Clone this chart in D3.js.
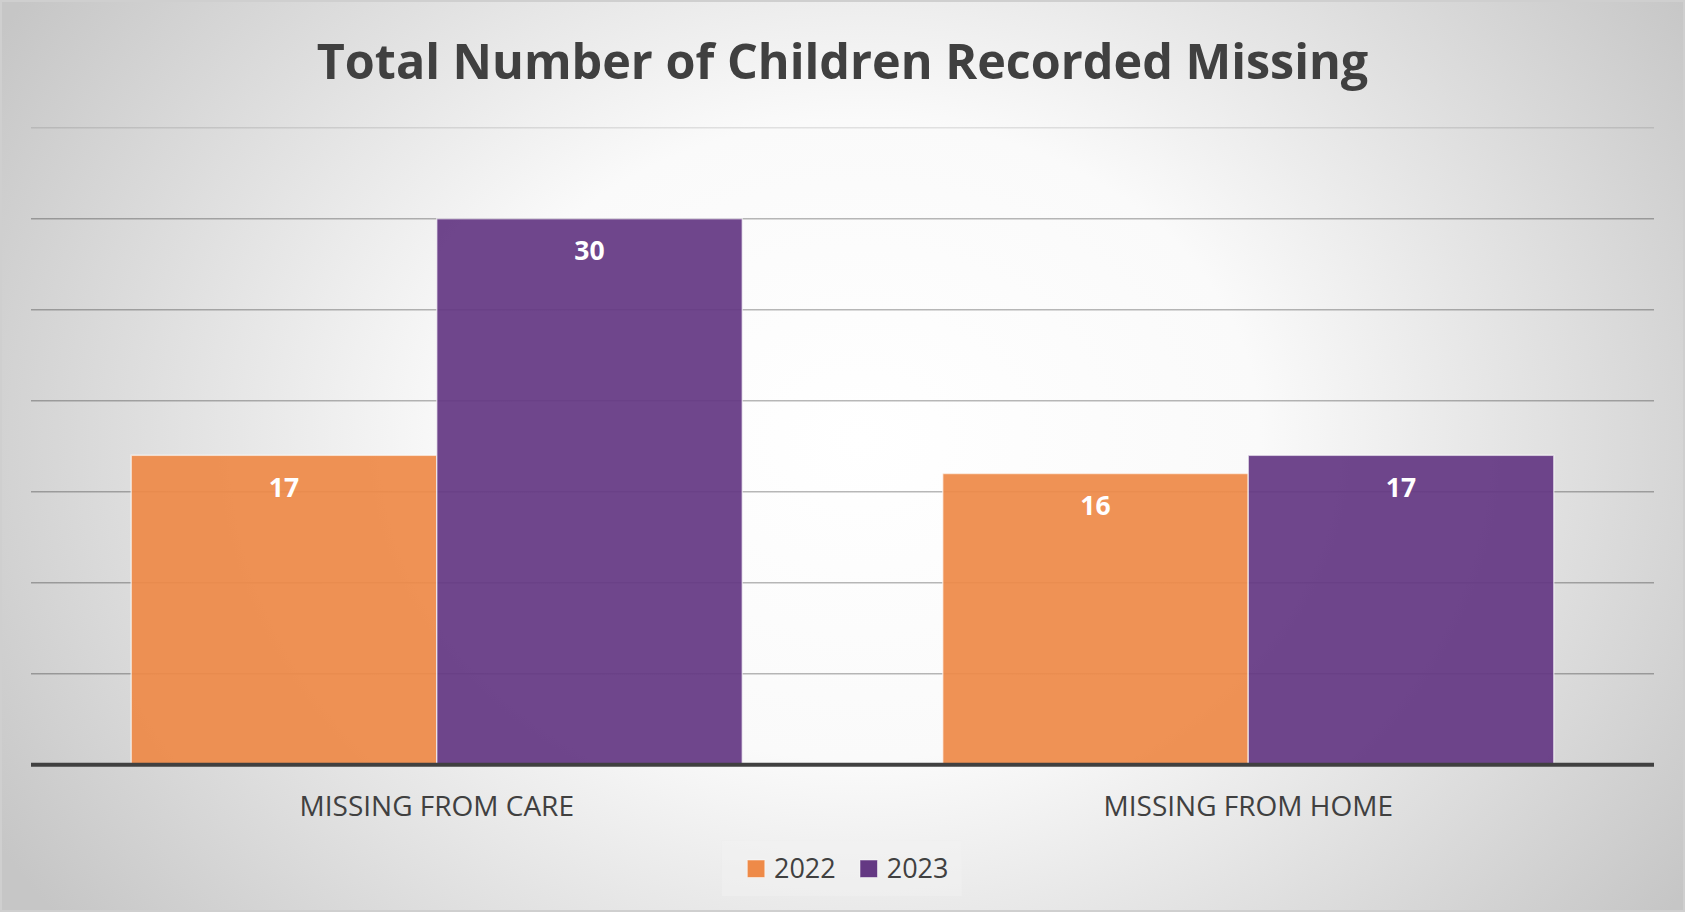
<!DOCTYPE html>
<html>
<head>
    <title>Total Number of Children Recorded Missing</title>
    <script src="https://d3js.org/d3.v7.min.js"></script>
    <style>
        body { margin: 0; background: #ffffff; }
        text { font-family: "Open Sans", "Noto Sans", sans-serif; }
    </style>
</head>
<body>
    <svg id="chart" width="1685" height="912"></svg>

    <script>
        // chart data
        var categories = ["MISSING FROM CARE", "MISSING FROM HOME"];
        var seriesNames = ["2022", "2023"];
        var values2022 = [17, 16];
        var values2023 = [30, 17];
        var yTicks = [0, 5, 10, 15, 20, 25, 30, 35];

        var seriesValues = [values2022, values2023];
        var colors = ["#EE8A48", "#643883"];

        var W = 1685, H = 912;
        var plot = {left: 31, right: 1654, top: 127.7, bottom: 764.7};

        var svg = d3.select("#chart");

        // background: elliptical radial gradient, white in the middle, grey at the edges
        var defs = svg.append("defs");
        var gcx = 860, gcy = 440;
        var grad = defs.append("radialGradient")
            .attr("id", "bg")
            .attr("gradientUnits", "userSpaceOnUse")
            .attr("cx", gcx).attr("cy", gcy)
            .attr("r", 1000)
            .attr("gradientTransform", "translate(" + gcx + "," + gcy + ") scale(1,0.8) translate(" + (-gcx) + "," + (-gcy) + ")");
        grad.append("stop").attr("offset", "0").attr("stop-color", "#ffffff");
        grad.append("stop").attr("offset", "0.4").attr("stop-color", "#fafafa");
        grad.append("stop").attr("offset", "1").attr("stop-color", "#c6c6c6");

        svg.append("rect")
            .attr("x", 1).attr("y", 1)
            .attr("width", W - 2).attr("height", H - 2)
            .attr("fill", "url(#bg)")
            .attr("stroke", "#cfcfcf")
            .attr("stroke-width", 2);

        // title
        svg.append("text")
            .attr("x", W / 2)
            .attr("y", 79)
            .attr("text-anchor", "middle")
            .attr("font-size", 48.5)
            .attr("font-weight", "bold")
            .attr("fill", "#404040")
            .text("Total Number of Children Recorded Missing");

        // scales
        var x0 = d3.scaleBand()
            .domain(categories)
            .range([plot.left, plot.right])
            .paddingInner(0.247)
            .paddingOuter(0.1235);

        var x1 = d3.scaleBand()
            .domain(seriesNames)
            .range([0, x0.bandwidth()]);

        var y = d3.scaleLinear()
            .domain([0, 35])
            .range([plot.bottom, plot.top]);

        // gridlines
        svg.append("g")
            .attr("class", "grid")
            .selectAll("line")
            .data(yTicks.filter(function(d) { return d > 0; }))
            .enter()
            .append("line")
            .attr("x1", plot.left)
            .attr("x2", plot.right)
            .attr("y1", function(d) { return y(d); })
            .attr("y2", function(d) { return y(d); })
            .attr("stroke", "#000")
            .attr("stroke-opacity", function(d) { return d === 35 ? 0.1 : 0.28; })
            .attr("stroke-width", 1.5);

        // bars
        var groups = svg.selectAll(".group")
            .data(categories)
            .enter()
            .append("g")
            .attr("class", "group")
            .attr("transform", function(d) { return "translate(" + x0(d) + ",0)"; });

        groups.selectAll("rect")
            .data(function(d, i) {
                return seriesNames.map(function(s, j) {
                    return {series: s, value: seriesValues[j][i], idx: j};
                });
            })
            .enter()
            .append("rect")
            .attr("x", function(d) { return x1(d.series); })
            .attr("y", function(d) { return y(d.value); })
            .attr("width", x1.bandwidth())
            .attr("height", function(d) { return y(0) - y(d.value); })
            .attr("fill", function(d) { return colors[d.idx]; })
            .attr("fill-opacity", 0.93)
            .attr("stroke", "#ffffff")
            .attr("stroke-opacity", 0.6)
            .attr("stroke-width", 1.5);

        // data labels
        groups.selectAll(".label")
            .data(function(d, i) {
                return seriesNames.map(function(s, j) {
                    return {series: s, value: seriesValues[j][i]};
                });
            })
            .enter()
            .append("text")
            .attr("class", "label")
            .attr("x", function(d) { return x1(d.series) + x1.bandwidth() / 2; })
            .attr("y", function(d) { return y(d.value) + 41.5; })
            .attr("text-anchor", "middle")
            .attr("font-size", 26.5)
            .attr("font-weight", "bold")
            .attr("fill", "#ffffff")
            .text(function(d) { return d.value; });

        // x axis
        var xAxis = svg.append("g")
            .attr("transform", "translate(0," + plot.bottom + ")")
            .call(d3.axisBottom(x0).tickSize(0).tickPadding(0));
        xAxis.select(".domain")
            .attr("d", "M" + plot.left + ",0H" + plot.right)
            .attr("stroke", "#404040")
            .attr("stroke-width", 4);
        xAxis.selectAll(".tick text")
            .attr("dy", null)
            .attr("y", 51.5)
            .attr("font-size", 28)
            .attr("font-family", "'Open Sans', sans-serif")
            .attr("fill", "#404040");

        // legend
        var legend = svg.append("g");
        legend.append("rect")
            .attr("x", 721.7).attr("y", 840.7)
            .attr("width", 240).attr("height", 55.3)
            .attr("fill", "#f2f2f2")
            .attr("fill-opacity", 0.5);

        var items = legend.selectAll(".item")
            .data(seriesNames)
            .enter()
            .append("g")
            .attr("class", "item")
            .attr("transform", function(d, i) { return "translate(" + (747.3 + i * 112.7) + ",0)"; });

        items.append("rect")
            .attr("x", 0).attr("y", 860)
            .attr("width", 17.5).attr("height", 17.5)
            .attr("fill", function(d, i) { return colors[i]; })
            .attr("stroke", "#ffffff")
            .attr("stroke-opacity", 0.5);

        items.append("text")
            .attr("x", 26.7)
            .attr("y", 878.3)
            .attr("font-size", 27)
            .attr("fill", "#404040")
            .text(function(d) { return d; });
    </script>
</body>
</html>
